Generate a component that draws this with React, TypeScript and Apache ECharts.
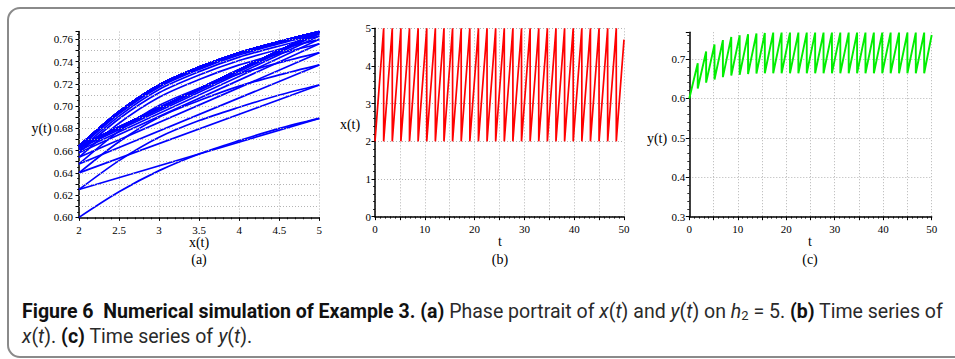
import React, { useEffect, useRef } from "react";
import * as echarts from "echarts";

// ---------------- data ----------------
// (a) phase portrait: y(t) read at these x(t) positions, one row per impulse cycle
const phaseX = [2, 2.5, 3, 3.5, 4, 4.5, 5];
const phaseCurves = [
  [0.6, 0.623, 0.642, 0.657, 0.669, 0.68, 0.689],
  [0.625, 0.651, 0.672, 0.687, 0.699, 0.71, 0.719],
  [0.64, 0.668, 0.69, 0.705, 0.718, 0.728, 0.737],
  [0.648, 0.6775, 0.7005, 0.716, 0.729, 0.739, 0.748],
  [0.654, 0.6846, 0.708, 0.7239, 0.737, 0.747, 0.756],
  [0.658, 0.6886, 0.712, 0.728, 0.741, 0.751, 0.76],
  [0.66, 0.691, 0.715, 0.731, 0.744, 0.754, 0.763],
  [0.662, 0.693, 0.717, 0.733, 0.746, 0.756, 0.765],
  [0.663, 0.694, 0.718, 0.734, 0.747, 0.757, 0.766],
];
// converged cycle, repeated for the remaining impulses
const limitCycle = [0.664, 0.695, 0.719, 0.735, 0.748, 0.758, 0.767];
const limitCycleRepeats = 19;
// last, unfinished cycle (ends at t = 50)
const lastX = [2, 2.5, 3, 3.5, 4, 4.5, 4.7];
const lastY = [0.664, 0.695, 0.719, 0.735, 0.748, 0.758, 0.761];

// (b),(c): impulse moments (x reaches 5 and is reset to 2)
const impulseTimes = [
  1.74, 3.47, 5.2, 6.93, 8.66, 10.39, 12.12, 13.85, 15.58, 17.31, 19.04, 20.77,
  22.5, 24.23, 25.96, 27.69, 29.42, 31.15, 32.88, 34.61, 36.34, 38.07, 39.8,
  41.53, 43.26, 44.99, 46.72, 48.45,
];
const xLow = 2;
const xHigh = 5;
const tEnd = 50;
const xAtEnd = 4.7;

// grid lines / ticks
const gridYA = [0.61, 0.62, 0.63, 0.64, 0.65, 0.66, 0.67, 0.68, 0.69, 0.7, 0.71, 0.72, 0.73, 0.74, 0.75, 0.76];

const SERIF = "'Liberation Serif', 'Times New Roman', serif";
const SANS = "Roboto, 'Noto Sans', sans-serif";

function buildOption() {
  const allCurves: number[][] = [...phaseCurves];
  for (let i = 0; i < limitCycleRepeats; i++) allCurves.push(limitCycle);

  const blue = "#0000ff";
  const series: any[] = [];

  // (a) flow curves
  allCurves.forEach((c) => {
    series.push({
      type: "line",
      xAxisIndex: 0,
      yAxisIndex: 0,
      data: phaseX.map((x, i) => [x, c[i]]),
      smooth: 0.3,
      symbol: "none",
      silent: true,
      lineStyle: { color: blue, width: 1.7 },
      z: 3,
    });
  });
  series.push({
    type: "line",
    xAxisIndex: 0,
    yAxisIndex: 0,
    data: lastX.map((x, i) => [x, lastY[i]]),
    smooth: 0.3,
    symbol: "none",
    silent: true,
    lineStyle: { color: blue, width: 1.7 },
    z: 3,
  });
  // (a) impulse jumps (x: 5 -> 2)
  for (let k = 0; k < allCurves.length; k++) {
    const next = k + 1 < allCurves.length ? allCurves[k + 1][0] : lastY[0];
    series.push({
      type: "line",
      xAxisIndex: 0,
      yAxisIndex: 0,
      data: [
        [xHigh, allCurves[k][allCurves[k].length - 1]],
        [xLow, next],
      ],
      symbol: "none",
      silent: true,
      lineStyle: { color: blue, width: 1.7 },
      z: 3,
    });
  }
  // (a) horizontal dotted grid
  series.push({
    type: "line",
    xAxisIndex: 0,
    yAxisIndex: 0,
    data: [],
    silent: true,
    z: 1,
    markLine: {
      silent: true,
      symbol: ["none", "none"],
      label: { show: false },
      animation: false,
      lineStyle: { color: "#b4b4b4", type: [1, 2], width: 1 },
      data: gridYA.map((v) => ({ yAxis: v })),
    },
  });

  // (b) x(t)
  const bData: number[][] = [];
  let t0 = 0;
  impulseTimes.forEach((t) => {
    bData.push([t0, xLow]);
    bData.push([t, xHigh]);
    t0 = t;
  });
  bData.push([t0, xLow]);
  bData.push([tEnd, xAtEnd]);
  series.push({
    type: "line",
    xAxisIndex: 1,
    yAxisIndex: 1,
    data: bData,
    symbol: "none",
    silent: true,
    lineStyle: { color: "#ff0000", width: 1.7 },
    z: 3,
  });

  // (c) y(t)
  const cData: number[][] = [];
  t0 = 0;
  impulseTimes.forEach((t, k) => {
    const c = allCurves[k];
    cData.push([t0, c[0]]);
    cData.push([t, c[c.length - 1]]);
    t0 = t;
  });
  cData.push([t0, lastY[0]]);
  cData.push([tEnd, lastY[lastY.length - 1]]);
  series.push({
    type: "line",
    xAxisIndex: 2,
    yAxisIndex: 2,
    data: cData,
    symbol: "none",
    silent: true,
    lineStyle: { color: "#00ee00", width: 1.9 },
    z: 3,
  });

  const axisLine = { show: true, onZero: false, lineStyle: { color: "#000", width: 1.5 } };
  const axisTick = { show: true, length: 3.5, lineStyle: { color: "#000", width: 1 } };
  const minor = (n: number) => ({ show: true, splitNumber: n, length: 2, lineStyle: { color: "#000", width: 0.8 } });
  const dotted = { show: true, showMaxLine: true, lineStyle: { color: "#b4b4b4", type: [1, 2], width: 1 } };
  const label = (margin: number, formatter: (v: number) => string) => ({
    show: true,
    color: "#000",
    fontFamily: SERIF,
    fontSize: 11,
    margin,
    formatter,
    showMinLabel: true,
    showMaxLabel: true,
  });
  const onStep = (v: number, step: number) => Math.abs(v / step - Math.round(v / step)) < 1e-6;

  const xAxis = [
    {
      gridIndex: 0, type: "value", min: 2, max: 5, interval: 0.5,
      axisLine, axisTick, minorTick: minor(5), splitLine: dotted,
      axisLabel: label(7, (v: number) => String(v)),
    },
    {
      gridIndex: 1, type: "value", min: 0, max: 50, interval: 5,
      axisLine, axisTick, minorTick: minor(5), splitLine: dotted,
      axisLabel: label(7, (v: number) => (onStep(v, 10) ? String(Math.round(v)) : "")),
    },
    {
      gridIndex: 2, type: "value", min: 0, max: 50, interval: 5,
      axisLine, axisTick, minorTick: minor(5), splitLine: dotted,
      axisLabel: label(7, (v: number) => (onStep(v, 10) ? String(Math.round(v)) : "")),
    },
  ];
  const yAxis = [
    {
      gridIndex: 0, type: "value", min: 0.6, max: 0.767, interval: 0.01,
      axisLine, axisTick, minorTick: minor(2), splitLine: { show: false },
      axisLabel: label(6, (v: number) => (onStep(v, 0.02) ? v.toFixed(2) : "")),
    },
    {
      gridIndex: 1, type: "value", min: 0, max: 5, interval: 1,
      axisLine, axisTick, minorTick: minor(5), splitLine: dotted,
      axisLabel: label(4, (v: number) => String(Math.round(v))),
    },
    {
      gridIndex: 2, type: "value", min: 0.3, max: 0.768, interval: 0.1,
      axisLine, axisTick, minorTick: minor(5),
      splitLine: { ...dotted, showMaxLine: false },
      axisLabel: label(4, (v: number) => (onStep(v, 0.1) ? v.toFixed(1) : "")),
    },
  ];

  const txt = (text: string, x: number, y: number, size = 14) => ({
    type: "text",
    silent: true,
    style: {
      text, x, y,
      font: `${size}px ${SERIF}`,
      fill: "#000",
      textAlign: "center", textVerticalAlign: "middle",
      align: "center", verticalAlign: "middle",
    },
  });

  const capSize = 19.55;
  const rich = {
    b: { fontFamily: SANS, fontSize: capSize, fontWeight: "bold", fill: "#111", color: "#111" },
    n: { fontFamily: SANS, fontSize: capSize, fill: "#2a2a2a", color: "#2a2a2a" },
    i: { fontFamily: SANS, fontSize: capSize, fontStyle: "italic", fill: "#2a2a2a", color: "#2a2a2a" },
    s: { fontFamily: SANS, fontSize: 13, fill: "#2a2a2a", color: "#2a2a2a", padding: [9, 0, 0, 0] },
  };
  const caption1 =
    "{b|Figure 6  Numerical simulation of Example 3. (a)}{n| Phase portrait of }{i|x}{n|(}{i|t}{n|) and }{i|y}{n|(}{i|t}{n|) on }{i|h}{s|2}{n| = 5. }{b|(b)}{n| Time series of}";
  const caption2 = "{i|x}{n|(}{i|t}{n|). }{b|(c)}{n| Time series of }{i|y}{n|(}{i|t}{n|).}";

  const graphic = [
    {
      type: "rect",
      silent: true,
      shape: { x: 8, y: 8, width: 990, height: 349, r: 12 },
      style: { fill: "none", stroke: "#8a8a8a", lineWidth: 2 },
      z: -1,
    },
    txt("y(t)", 41.5, 128),
    txt("x(t)", 199, 242),
    txt("(a)", 199, 259),
    txt("x(t)", 350, 124),
    txt("t", 500, 241),
    txt("(b)", 500, 259),
    txt("y(t)", 657, 138.5),
    txt("t", 810, 241),
    txt("(c)", 810, 259),
    {
      type: "text",
      silent: true,
      style: {
        text: caption1, x: 22, y: 311, rich,
        font: `${capSize}px ${SANS}`, fill: "#222",
        textVerticalAlign: "middle", verticalAlign: "middle",
      },
    },
    {
      type: "text",
      silent: true,
      style: {
        text: caption2, x: 22, y: 336, rich,
        font: `${capSize}px ${SANS}`, fill: "#222",
        textVerticalAlign: "middle", verticalAlign: "middle",
      },
    },
  ];

  return {
    animation: false,
    backgroundColor: "#fff",
    grid: [
      { left: 79, top: 31.55, width: 240.3, height: 185.8 },
      { left: 375, top: 28.33, width: 249, height: 188.34 },
      { left: 689.3, top: 32.2, width: 242.4, height: 184.5 },
    ],
    xAxis,
    yAxis,
    series,
    graphic,
  };
}

export default function App() {
  const ref = useRef<HTMLDivElement>(null);
  useEffect(() => {
    if (!ref.current) return;
    const chart = echarts.init(ref.current, null, { renderer: "svg" });
    chart.setOption(buildOption() as any);
    return () => chart.dispose();
  }, []);
  return (
    <div
      ref={ref}
      style={{ position: "fixed", left: 0, top: 0, width: 955, height: 359, background: "#fff" }}
    />
  );
}
